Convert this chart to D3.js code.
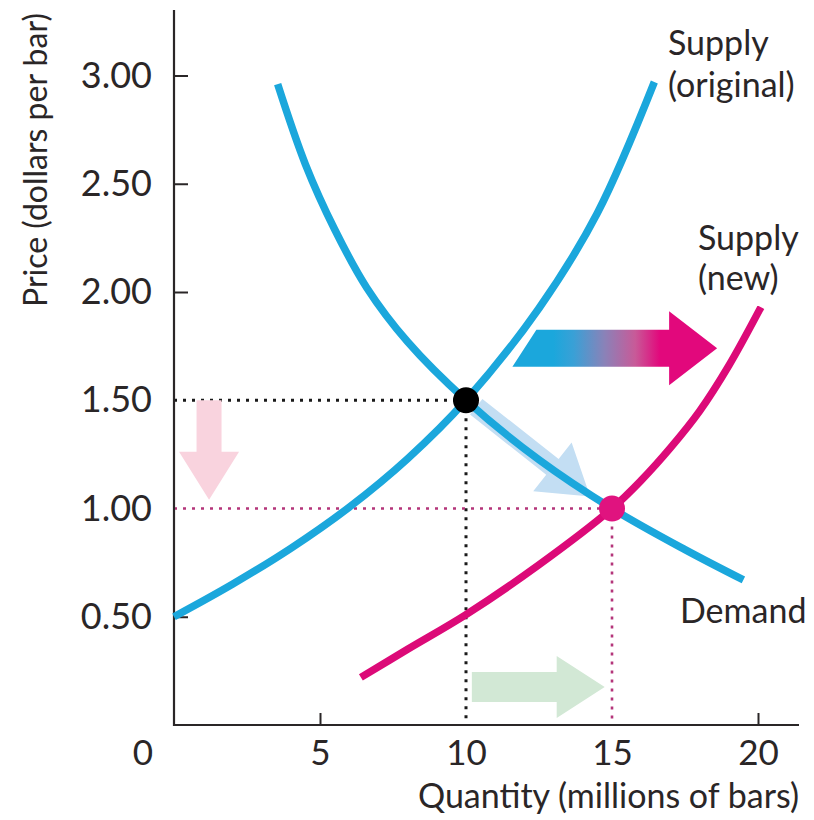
<!DOCTYPE html>
<html>
<head>
<meta charset="utf-8">
<script src="https://cdn.jsdelivr.net/npm/d3@7"></script>
<style>
  html, body { margin: 0; padding: 0; background: #fff; }
  svg { display: block; }
  text { font-family: "Lato", "Open Sans", sans-serif; font-weight: 400; fill: #2a2627; }
</style>
</head>
<body>
<svg id="chart" width="814" height="820"></svg>
<script>
// ---------- data ----------
const xTickValues = [5, 10, 15, 20];
const yTickValues = [0.5, 1.0, 1.5, 2.0, 2.5, 3.0];
const yTickLabels = ["0.50", "1.00", "1.50", "2.00", "2.50", "3.00"];

const demandQ = [3.55, 4.5, 5.5, 6.6, 8.0, 10.0, 12.5, 15.0, 17.5, 19.5];
const demandP = [2.96, 2.59, 2.29, 2.02, 1.77, 1.50, 1.225, 1.00, 0.81, 0.67];

const supplyOrigQ = [0, 2, 4, 6, 8, 10, 12.5, 14.5, 16.45];
const supplyOrigP = [0.5, 0.65, 0.816, 1.006, 1.23, 1.5, 1.925, 2.365, 2.97];

const supplyNewQ = [6.4, 8, 10, 12.5, 15, 16, 17, 18, 19, 20.1];
const supplyNewP = [0.22, 0.35, 0.51, 0.74, 1.0, 1.13, 1.28, 1.45, 1.66, 1.93];

const eqOriginal = [10, 1.5];
const eqNew = [15, 1.0];

// arrows (data units): [fromQ, fromP, toQ, toP]
const supplyShiftArrow = [12.0, 1.74, 18.6, 1.74];
const priceArrow = [1.2, 1.5, 1.2, 1.04];
const quantityArrow = [10.2, 0.175, 14.75, 0.175];
const movementArrow = [10.35, 1.47, 14.25, 1.055];

// ---------- setup ----------
const svg = d3.select("#chart");
const x = d3.scaleLinear().domain([0, 20]).range([174, 758]);
const y = d3.scaleLinear().domain([0, 3]).range([725, 75.5]);

const CYAN = "#1ba7dc";
const MAGENTA = "#dc0a78";
const MAG_TEXT = "#c2257a";
const INK = "#2a2627";

// gradient
const defs = svg.append("defs");
const grad = defs.append("linearGradient").attr("id", "shiftGrad")
  .attr("gradientUnits", "userSpaceOnUse")
  .attr("x1", x(supplyShiftArrow[0]) - 12).attr("x2", x(supplyShiftArrow[2]))
  .attr("y1", 0).attr("y2", 0);
[[0, CYAN], [0.2, CYAN], [0.3, "#3aa0d6"], [0.45, "#8a82b8"], [0.6, "#c85a98"], [0.72, "#e2087c"], [1, "#e2087c"]]
  .forEach(([o, c]) => grad.append("stop").attr("offset", o).attr("stop-color", c));

// arrow polygon builder (pixel space)
function arrowPath(x0, y0, x1, y1, shaftW, headW, headL, tailSlant) {
  const dx = x1 - x0, dy = y1 - y0, L = Math.hypot(dx, dy);
  const ux = dx / L, uy = dy / L, nx = -uy, ny = ux;
  const s = tailSlant || 0;
  const P = (a, b) => [x0 + ux * a + nx * b, y0 + uy * a + ny * b];
  const pts = [
    P(s, -shaftW / 2), P(L - headL, -shaftW / 2), P(L - headL, -headW / 2),
    P(L, 0), P(L - headL, headW / 2), P(L - headL, shaftW / 2), P(-s, shaftW / 2)
  ];
  return "M" + pts.map(p => p.join(",")).join("L") + "Z";
}
function drawArrow(a, opts) {
  svg.append("path")
    .attr("d", arrowPath(x(a[0]), y(a[1]), x(a[2]), y(a[3]), opts.shaftW, opts.headW, opts.headL, opts.slant))
    .attr("fill", opts.fill)
    .attr("opacity", opts.opacity == null ? 1 : opts.opacity);
}

// ---------- dotted guides ----------
function dotted(q0, p0, q1, p1, color, w) {
  svg.append("line")
    .attr("x1", x(q0)).attr("y1", y(p0)).attr("x2", x(q1)).attr("y2", y(p1))
    .attr("stroke", color).attr("stroke-width", w)
    .attr("stroke-dasharray", "3,6");
}
dotted(0, eqOriginal[1], eqOriginal[0], eqOriginal[1], "#1a1a1a", 3);
dotted(eqOriginal[0], eqOriginal[1], eqOriginal[0], 0, "#1a1a1a", 3);
dotted(0, eqNew[1], eqNew[0], eqNew[1], "#b4357a", 2.6);
dotted(eqNew[0], eqNew[1], eqNew[0], 0, "#b4357a", 2.6);

// ---------- light arrows ----------
drawArrow(priceArrow, { shaftW: 25, headW: 60, headL: 48, fill: "#f9d3de" });
drawArrow(quantityArrow, { shaftW: 30, headW: 62, headL: 48, fill: "#d2e8d5" });
drawArrow(movementArrow, { shaftW: 20, headW: 62, headL: 48, fill: "#c3def3" });

// ---------- axes ----------
const yAxis = d3.axisLeft(y).tickValues(yTickValues)
  .tickFormat((d, i) => yTickLabels[i]).tickSize(-14).tickPadding(22);
const gy = svg.append("g").attr("transform", `translate(${x(0)},0)`).call(yAxis);
gy.select(".domain").remove();
gy.selectAll(".tick text").style("font-size", "36px").style("font-family", "Lato")
  .attr("fill", d => d === eqNew[1] ? MAG_TEXT : INK);
gy.selectAll(".tick line").attr("stroke", INK).attr("stroke-width", 2)
  .attr("display", d => (d === eqNew[1] || d === eqOriginal[1]) ? "none" : null);

const xAxis = d3.axisBottom(x).tickValues(xTickValues).tickSize(-12).tickPadding(15);
const gx = svg.append("g").attr("transform", `translate(0,${y(0)})`).call(xAxis);
gx.select(".domain").remove();
gx.selectAll(".tick text").style("font-size", "35px").style("font-family", "Lato")
  .attr("fill", d => d === eqNew[0] ? MAG_TEXT : INK);
gx.selectAll(".tick line").attr("stroke", INK).attr("stroke-width", 2)
  .attr("display", d => (d === eqNew[0] || d === eqOriginal[0]) ? "none" : null);

// axis lines
svg.append("line").attr("x1", x(0)).attr("x2", x(0)).attr("y1", 10).attr("y2", y(0) + 1)
  .attr("stroke", INK).attr("stroke-width", 2.2);
svg.append("line").attr("x1", x(0) - 1).attr("x2", 799).attr("y1", y(0)).attr("y2", y(0))
  .attr("stroke", INK).attr("stroke-width", 2.2);

// origin label
svg.append("text").attr("x", x(0) - 31).attr("y", y(0) + 15).attr("dy", "0.71em")
  .attr("text-anchor", "middle").style("font-size", "35px").text("0");

// axis titles
svg.append("text").attr("transform", `translate(47,160) rotate(-90)`)
  .attr("text-anchor", "middle").style("font-size", "32px").text("Price (dollars per bar)");
svg.append("text").attr("x", 799).attr("y", 808)
  .attr("text-anchor", "end").style("font-size", "34px").text("Quantity (millions of bars)");

// ---------- curves ----------
const line = d3.line().x(d => x(d[0])).y(d => y(d[1])).curve(d3.curveCatmullRom.alpha(0.5));
function curve(qs, ps, color) {
  svg.append("path").datum(qs.map((q, i) => [q, ps[i]]))
    .attr("d", line).attr("fill", "none")
    .attr("stroke", color).attr("stroke-width", 7.5).attr("stroke-linecap", "butt");
}
curve(supplyOrigQ, supplyOrigP, CYAN);
curve(demandQ, demandP, CYAN);
curve(supplyNewQ, supplyNewP, MAGENTA);

// ---------- equilibrium points ----------
svg.append("circle").attr("cx", x(eqOriginal[0])).attr("cy", y(eqOriginal[1])).attr("r", 13).attr("fill", "#000");
svg.append("circle").attr("cx", x(eqNew[0])).attr("cy", y(eqNew[1])).attr("r", 13).attr("fill", "#e0137f");

// ---------- supply shift arrow ----------
drawArrow(supplyShiftArrow, { shaftW: 37, headW: 74, headL: 48, slant: 12, fill: "url(#shiftGrad)" });

// ---------- curve labels ----------
function label(lines, xPos, yPos, lh) {
  const t = svg.append("text").attr("x", xPos).attr("y", yPos).style("font-size", "34px");
  lines.forEach((s, i) => t.append("tspan").attr("x", xPos).attr("dy", i ? lh : 0).text(s));
}
label(["Supply", "(original)"], 668, 55, 42);
label(["Supply", "(new)"], 698, 250, 40);
label(["Demand"], 680, 623, 0);
</script>
</body>
</html>
